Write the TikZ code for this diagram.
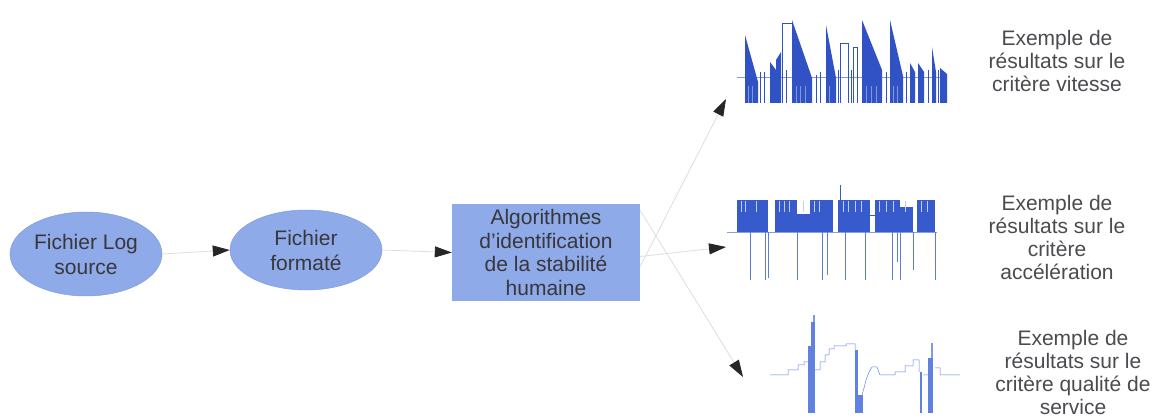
\documentclass[tikz,border=0pt]{standalone}
\usepackage{fontspec}
\setmainfont{Liberation Sans}
\usetikzlibrary{shapes.geometric,arrows.meta}
\definecolor{shapefill}{RGB}{143,170,232}
\definecolor{shapeedge}{RGB}{128,155,224}
\definecolor{txt}{RGB}{55,55,60}
\definecolor{txtg}{RGB}{75,75,80}
\definecolor{linkc}{RGB}{222,222,226}
\definecolor{chartA}{RGB}{48,82,196}
\definecolor{chartB}{RGB}{55,90,205}
\definecolor{chartC}{RGB}{95,130,225}
\tikzset{
  ellnode/.style={ellipse,fill=shapefill,draw=shapeedge,line width=0.5pt,minimum width=152pt,minimum height=84pt,inner sep=0pt,text=txt,align=center,font=\fontsize{21}{25}\selectfont},
  boxnode/.style={rectangle,fill=shapefill,minimum width=188pt,minimum height=97pt,inner sep=0pt,text=txt,align=center,font=\fontsize{21}{23.5}\selectfont},
  restxt/.style={text=txtg,align=center,font=\fontsize{21}{23}\selectfont,inner sep=0pt},
  link/.style={draw=linkc,line width=0.8pt,-{Triangle[length=17pt,width=11pt,color=black!85]}}
}
\begin{document}
\begin{tikzpicture}[x=1pt,y=-1pt]
\useasboundingbox[fill=white] (0,0) rectangle (1159,419);

% main nodes
\node[ellnode] (src) at (86,254) {Fichier Log\\source};
\node[ellnode,minimum height=80pt] (fmt) at (306,250) {Fichier\\formaté};
\node[boxnode] (alg) at (546,252.5) {Algorithmes\\d'identification\\de la stabilité\\humaine};

% chart anchor coordinates (arrow tips)
\coordinate (c1) at (726,99);
\coordinate (c2) at (726,247);
\coordinate (c3) at (743,377);

% connectors
\draw[link] (src.east) -- (fmt.west);
\draw[link] (fmt.east) -- (alg.west);
\draw[link] ([yshift=-14pt]alg.east) -- (c1);
\draw[link] ([yshift=-4pt]alg.east) -- (c2);
\draw[link] ([yshift=42pt]alg.east) -- (c3);

% ---------- chart 1 (vitesse) ----------
\begin{scope}
\draw[chartA!60,line width=0.5pt] (737,77) -- (947,77);
\foreach \xa/\xb/\ta/\tb in {745/758/35/82, 792/812/20/78, 826/836/25/78, 862/882/20/70, 890/903/20/76, 910/915/63/72, 918/924/63/72, 932/936/47/72, 940/947/68/74, 770/776/62/70}{
  \fill[chartA] (\xa,103) -- (\xa,\ta) -- (\xb,\tb) -- (\xb,103) -- cycle;
}
\fill[chartA] (776,103) -- (776,60) -- (781,52) -- (781,103) -- cycle;
\draw[chartA,line width=0.7pt] (782,103) -- (782,23) -- (792,23) -- (792,103);
\draw[chartA,line width=0.7pt] (840,103) -- (840,43) -- (848,43) -- (848,103);
\draw[chartA,line width=0.7pt] (853,103) -- (853,47) -- (857,47) -- (857,103);
\foreach \xx/\tt in {760/72,764/72,786/70,816/75,820/72,838/70,851/70,886/72,906/72,928/70,938/70}{
  \draw[chartA,line width=0.6pt] (\xx,103) -- (\xx,\tt);
}
\foreach \xx in {748,752,796,800,805,829,866,871,876,893,897}{
  \draw[white!40!chartA,line width=0.35pt] (\xx,103) -- (\xx,86);
}
\end{scope}

% ---------- chart 2 (accélération) ----------
\begin{scope}
\draw[chartB!60,line width=0.5pt] (727,232) -- (937,232);
\foreach \xa/\xb/\tp in {737/768/200, 775/797/200, 797/810/214, 810/833/200, 838/870/200, 875/900/200, 900/913/207, 917/935/200}{
  \fill[chartB] (\xa,\tp) rectangle (\xb,232);
}
\draw[chartB,line width=0.6pt] (870,215) -- (875,215);
\foreach \xx in {741,745,756,779,784,789,803,814,819,843,848,855,861,879,886,893,905,921,927}{
  \draw[white!70!chartB,line width=0.4pt] (\xx,201) -- (\xx,212);
}
\draw[chartB,line width=0.7pt] (840,200) -- (840,185);
\foreach \xx/\bb in {750/280,765/280,768/278,797/280,822/280,827/275,845/280,865/280,892/280,897/262,900/280,913/270,935/280}{
  \draw[chartB!80,line width=0.7pt] (\xx,232) -- (\xx,\bb);
}
\end{scope}

% ---------- chart 3 (qualité de service) ----------
\begin{scope}
\draw[chartC,line width=0.5pt]
  (770,375) -- (788,375) -- (788,370) -- (798,370) -- (798,365) -- (804,365) -- (804,362) -- (808,362)
  (815,370) -- (820,370) -- (820,362) -- (825,362) -- (825,355) -- (829,355) -- (829,349) -- (834,349) -- (834,346) -- (846,346) -- (846,344) -- (855,344) -- (855,350)
  (862,395) -- (864,388) -- (866,380) -- (869,372) -- (872,367) -- (877,367) -- (880,375) -- (895,375) -- (895,372) -- (905,372) -- (905,366) -- (913,366) -- (913,360) -- (919,360) -- (919,372)
  (935,368) -- (940,368) -- (940,375) -- (960,375)
  (923,375) -- (928,375);
\fill[chartC] (808,346) rectangle (811,413);
\fill[chartC] (811,322) rectangle (815,413);
\fill[chartC!80] (813,315) rectangle (815,322);
\fill[chartC] (855,350) rectangle (858,413);
\fill[chartC] (858,395) rectangle (863,413);
\fill[chartC] (920,372) rectangle (922,413);
\fill[chartC] (928,358) rectangle (933,413);
\fill[chartC!80] (931,343) rectangle (933,358);
\end{scope}

% result labels
\node[restxt] (r1) at (1057,61) {Exemple de\\résultats sur le\\critère vitesse};
\node[restxt] (r2) at (1057,237) {Exemple de\\résultats sur le\\critère\\accélération};
\node[restxt] (r3) at (1073,372) {Exemple de\\résultats sur le\\critère qualité de\\service};
\end{tikzpicture}
\end{document}
